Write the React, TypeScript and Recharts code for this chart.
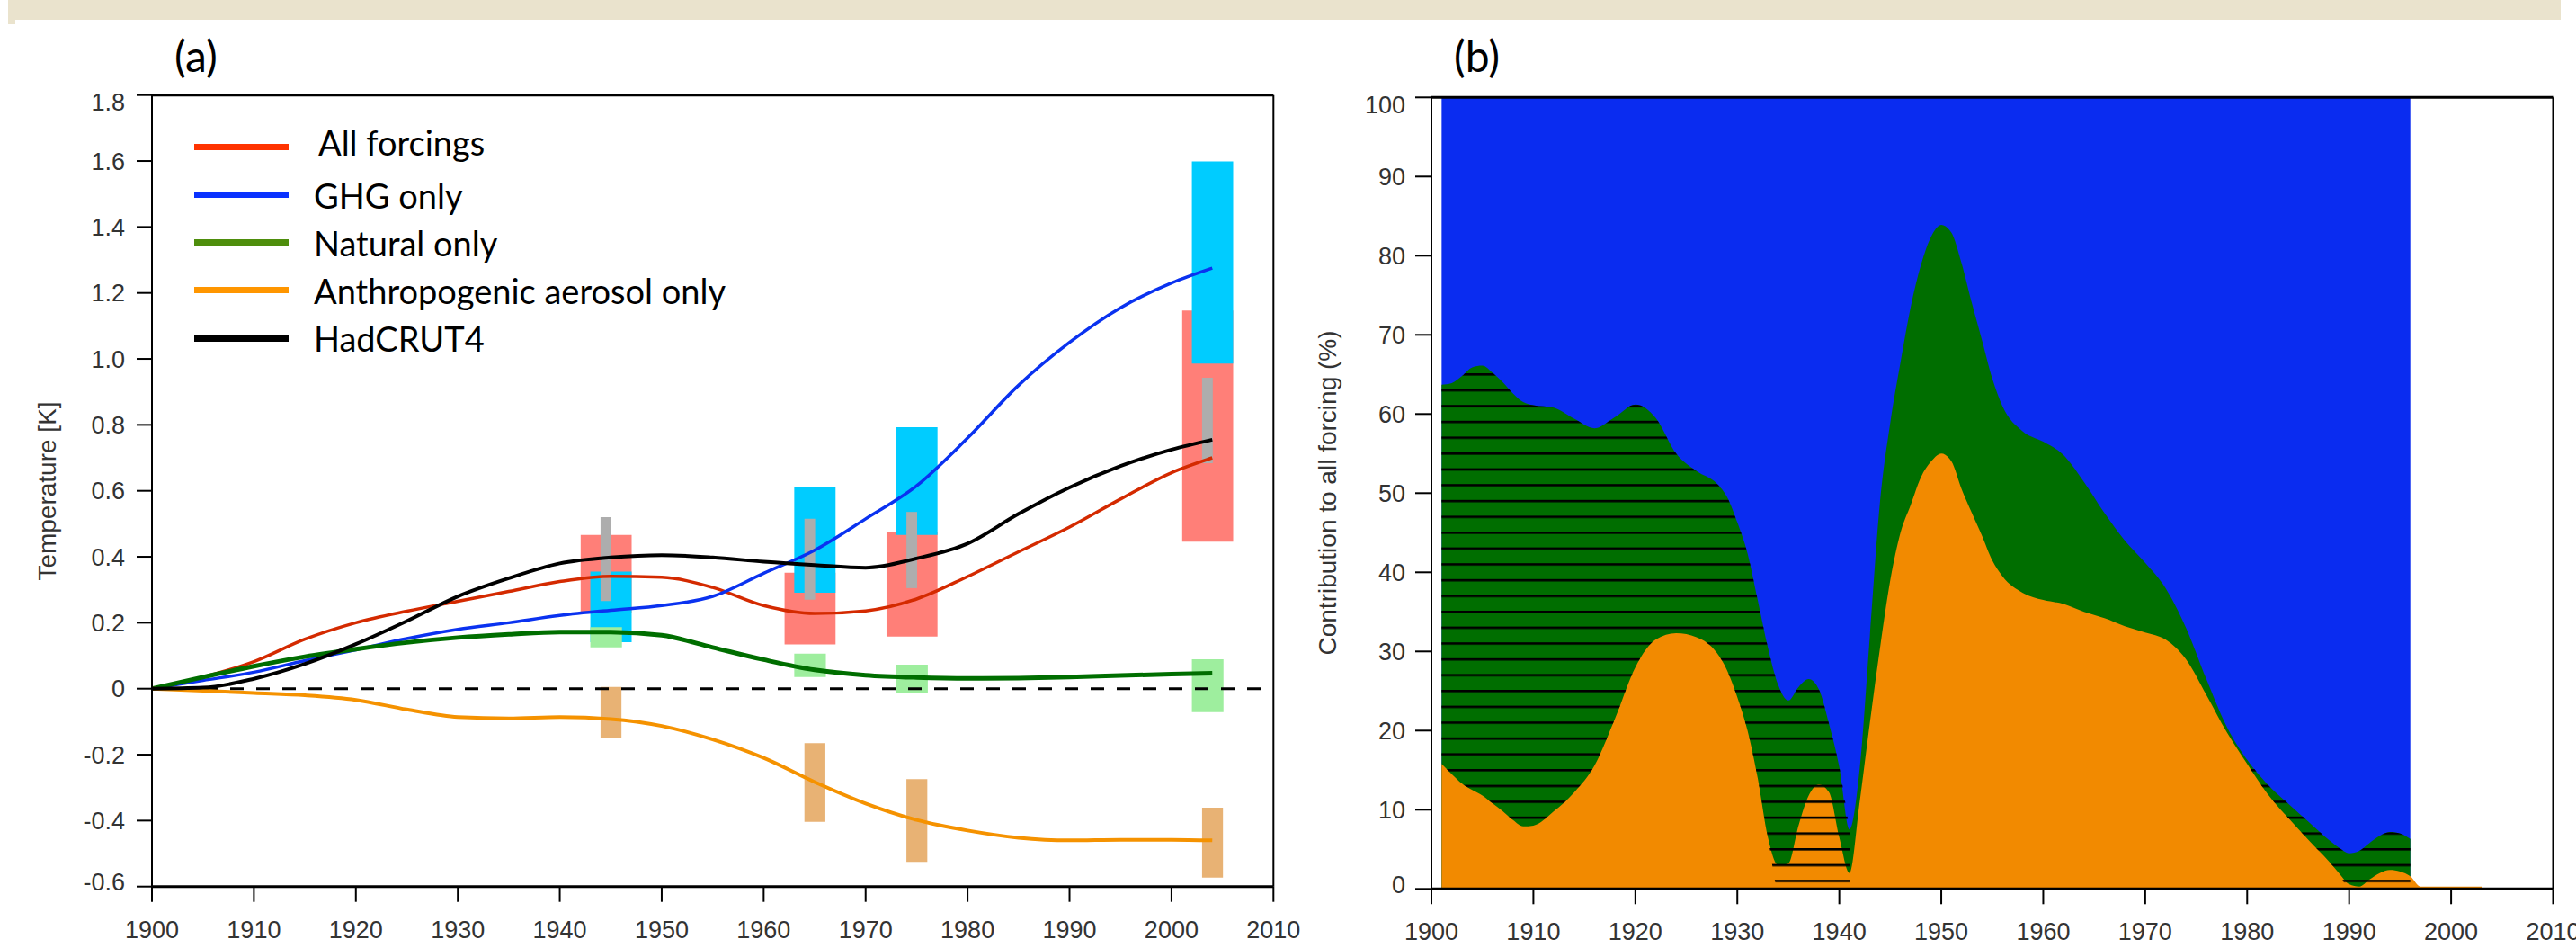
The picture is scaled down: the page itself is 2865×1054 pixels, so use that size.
import React from "react";
import {
  ComposedChart,
  Line,
  Area,
  XAxis,
  YAxis,
  ReferenceArea,
  ReferenceLine,
  Legend,
  Label,
} from "recharts";

// ---------- (a) temperature change, K ----------
const tempYears = [1900, 1905, 1910, 1915, 1920, 1925, 1930, 1935, 1940, 1945, 1950, 1955, 1960, 1965, 1970, 1975, 1980, 1985, 1990, 1995, 2000, 2004];
const allForcingsK = [0, 0.035, 0.082, 0.15, 0.2, 0.235, 0.265, 0.295, 0.325, 0.341, 0.338, 0.307, 0.252, 0.228, 0.236, 0.272, 0.34, 0.415, 0.49, 0.575, 0.655, 0.7];
const ghgOnlyK = [0, 0.025, 0.05, 0.085, 0.118, 0.152, 0.18, 0.2, 0.222, 0.238, 0.252, 0.28, 0.35, 0.42, 0.515, 0.615, 0.76, 0.92, 1.05, 1.155, 1.23, 1.275];
const naturalOnlyK = [0, 0.035, 0.068, 0.097, 0.12, 0.14, 0.155, 0.165, 0.172, 0.172, 0.162, 0.125, 0.088, 0.057, 0.041, 0.034, 0.031, 0.032, 0.035, 0.04, 0.044, 0.047];
const aerosolOnlyK = [0, -0.006, -0.013, -0.02, -0.034, -0.063, -0.086, -0.09, -0.086, -0.092, -0.113, -0.154, -0.21, -0.283, -0.348, -0.398, -0.43, -0.452, -0.46, -0.458, -0.458, -0.46];
const hadcrut4K = [0, 0.003, 0.03, 0.075, 0.135, 0.205, 0.28, 0.335, 0.38, 0.398, 0.405, 0.398, 0.385, 0.375, 0.367, 0.395, 0.44, 0.53, 0.61, 0.675, 0.725, 0.755];

// uncertainty boxes, one per period (first year of each period)
const periodStarts = [1942, 1962, 1972, 2001];
const allForcingsLow = [0.23, 0.134, 0.158, 0.446];
const allForcingsHigh = [0.466, 0.352, 0.474, 1.147];
const ghgLow = [0.141, 0.291, 0.466, 0.986];
const ghgHigh = [0.355, 0.613, 0.793, 1.599];
const hadcrutLow = [0.266, 0.27, 0.305, 0.684];
const hadcrutHigh = [0.52, 0.515, 0.536, 0.943];
const naturalLow = [0.125, 0.035, -0.012, -0.071];
const naturalHigh = [0.187, 0.106, 0.073, 0.089];
const aerosolLow = [-0.15, -0.404, -0.525, -0.573];
const aerosolHigh = [0.005, -0.165, -0.274, -0.361];

const legendLabels = ["All forcings", "GHG only", "Natural only", "Anthropogenic aerosol only", "HadCRUT4"];

// ---------- (b) contribution to all forcing, % ----------
const contribYears = [
  1901, 1902, 1903, 1904, 1905, 1906, 1907, 1908, 1909, 1910,
  1912, 1914, 1916, 1918, 1920, 1922, 1924, 1926, 1928, 1929,
  1930, 1931, 1932, 1933, 1934, 1935, 1936, 1937, 1938, 1939,
  1940, 1941, 1942, 1943, 1944, 1945, 1946, 1947, 1948, 1949,
  1950, 1951, 1952, 1953, 1954, 1955, 1956, 1958, 1960, 1962,
  1964, 1966, 1968, 1970, 1972, 1974, 1976, 1978, 1980, 1982,
  1984, 1986, 1988, 1989, 1990, 1991, 1992, 1993, 1994, 1995,
  1996, 1997, 2000, 2003,
];
const aerosolShare = [
  15.8, 14.5, 13.3, 12.5, 11.8, 10.8, 9.8, 8.7, 7.9, 8.0,
  9.8, 12.2, 15.6, 21.5, 28.0, 31.5, 32.3, 31.8, 29.8, 27.6,
  24.2, 20.0, 14.0, 6.5, 3.0, 3.2, 8.0, 11.8, 13.2, 12.2,
  6.5, 2.0, 11.0, 21.0, 30.5, 39.0, 45.0, 48.5, 52.0, 54.0,
  55.0, 54.0, 50.5, 47.5, 44.6, 41.5, 39.5, 37.4, 36.5, 36.0,
  35.0, 34.2, 33.2, 32.4, 31.5, 29.0, 24.5, 19.8, 15.8, 12.0,
  9.0, 6.2, 3.5, 2.0, 0.6, 0.3, 1.2, 2.0, 2.4, 2.2,
  1.6, 0.3, 0.3, 0.3,
];
// aerosol + natural (top of the green layer)
const aerosolNaturalShare = [
  63.7, 63.9, 64.8, 65.9, 66.1, 65.2, 64.0, 62.6, 61.5, 61.1,
  60.8, 59.4, 58.2, 59.6, 61.2, 59.5, 55.0, 52.8, 51.2, 49.5,
  46.3, 42.4, 36.5, 30.5, 25.8, 23.8, 25.5, 26.5, 25.2, 20.8,
  15.4, 7.5, 15.2, 32.0, 49.0, 58.9, 66.5, 73.5, 78.8, 82.4,
  83.9, 82.9, 79.0, 74.0, 69.3, 64.5, 61.0, 57.8, 56.5, 54.8,
  51.4, 47.5, 44.0, 41.2, 38.0, 33.0, 26.5, 20.5, 16.3, 13.2,
  10.8, 8.5, 6.2, 5.2, 4.5, 4.8, 5.8, 6.7, 7.2, 7.0,
  6.3, null, null, null,
];
// hatched (not significant) band: "above" = from aerosol top, "full" = from zero
const hatchMode = [
  "above", "above", "above", "above", "above", "above", "above", "above", "above", "above",
  "above", "above", "above", "above", "above", "above", "above", "above", "above", "above",
  "above", "above", "above", "above", "full", "full", "full", "full", "full", "full",
  "full", "full", null, null, null, null, null, null, null, null,
  null, null, null, null, null, null, null, null, null, null,
  null, null, null, null, null, null, null, null, "above", "above",
  "above", "above", "above", "above", "full", "full", "full", "full", "full", "full",
  "full", null, null, null,
];

const yearTicks = [1900, 1910, 1920, 1930, 1940, 1950, 1960, 1970, 1980, 1990, 2000, 2010];
const tempTicks = [-0.6, -0.4, -0.2, 0, 0.2, 0.4, 0.6, 0.8, 1.0, 1.2, 1.4, 1.6, 1.8];
const pctTicks = [0, 10, 20, 30, 40, 50, 60, 70, 80, 90, 100];

const tempData = tempYears.map((year, i) => ({
  year,
  all: allForcingsK[i],
  ghg: ghgOnlyK[i],
  nat: naturalOnlyK[i],
  aer: aerosolOnlyK[i],
  obs: hadcrut4K[i],
}));

const contribData = contribYears.map((year, i) => {
  const top = aerosolNaturalShare[i];
  const mode = hatchMode[i];
  return {
    year,
    ghg: top === null ? null : 100,
    nat: top,
    aer: aerosolShare[i],
    hatch: mode === null || top === null ? null : [mode === "full" ? 0 : aerosolShare[i], top],
  };
});

// ---------- styles ----------
const tickFont = { fill: "#333", fontSize: 27, fontFamily: "'Liberation Sans', Arial, sans-serif" };
const thick = { stroke: "#000", strokeWidth: 3 };
const thin = { stroke: "#000", strokeWidth: 2 };
const titleFont = "Lato, 'Open Sans', sans-serif";

const boxLayers = [
  { lo: allForcingsLow, hi: allForcingsHigh, from: 0.05, to: 5.05, fill: "#FF7F78" },
  { lo: ghgLow, hi: ghgHigh, from: 1.0, to: 5.05, fill: "#00CCFF" },
  { lo: hadcrutLow, hi: hadcrutHigh, from: 2.0, to: 3.05, fill: "#ADADAD" },
  { lo: naturalLow, hi: naturalHigh, from: 1.0, to: 4.1, fill: "#9EEE9E" },
  { lo: aerosolLow, hi: aerosolHigh, from: 2.0, to: 4.05, fill: "#E8B274" },
];
const legendColors = ["#FF3300", "#0A32FF", "#4E8E0C", "#FF9600", "#000000"];

// panel (b) plot box, in its own svg coordinates
const bPlotBottom = 988.3;
const bPlotHeight = 880;
const hatchStep = bPlotHeight * 0.02;
const hatchLine = 2.6;

const fmtTemp = (v: number) => (v === 0 ? "0" : v.toFixed(1));

// y tick label; the end labels are nudged inside the frame
const YTick = (props: any) => {
  const { x, y, payload, lo, hi, format } = props;
  const v = payload.value;
  const shift = v === hi ? 8 : v === lo ? -5 : 0;
  return (
    <text x={x} y={y + shift} dy="0.355em" textAnchor="end" {...tickFont}>
      {format ? format(v) : String(v)}
    </text>
  );
};

const SideTitle = ({ x, y, text }: { x: number; y: number; text: string }) => (
  <text
    x={x}
    y={y}
    transform={`rotate(-90, ${x}, ${y})`}
    textAnchor="middle"
    fill="#333"
    fontSize={28}
    fontFamily="'Liberation Sans', Arial, sans-serif"
  >
    {text}
  </text>
);

const TempLegend = () => (
  <div style={{ fontFamily: titleFont, fontSize: 38, color: "#000" }}>
    {legendLabels.map((label, i) => (
      <div key={label} style={{ display: "flex", alignItems: "center", height: 53 }}>
        <div style={{ width: 105, height: i === 4 ? 8 : 7, background: legendColors[i] }} />
        <span
          style={{
            marginLeft: i === 0 ? 33 : 28,
            lineHeight: 1,
            position: "relative",
            top: i === 0 ? -6 : 0,
            whiteSpace: "nowrap",
          }}
        >
          {label}
        </span>
      </div>
    ))}
  </div>
);

const PanelA = () => (
  <ComposedChart
    width={1480}
    height={1054}
    data={tempData}
    margin={{ top: 75.7, right: 43.7, bottom: 8.3, left: 69 }}
  >
    <XAxis
      dataKey="year"
      type="number"
      domain={[1900, 2010]}
      ticks={yearTicks}
      interval={0}
      height={60}
      tickSize={17}
      tickMargin={21}
      tick={tickFont}
      axisLine={thick}
      tickLine={thin}
      allowDataOverflow
    />
    <XAxis
      xAxisId="top"
      orientation="top"
      type="number"
      domain={[1900, 2010]}
      ticks={yearTicks}
      interval={0}
      height={30}
      tickSize={6}
      tick={false}
      axisLine={thick}
      tickLine={thin}
      allowDataOverflow
    />
    <YAxis
      type="number"
      domain={[-0.6, 1.8]}
      ticks={tempTicks}
      interval={0}
      width={100}
      tickSize={17}
      tickMargin={13}
      tick={<YTick lo={-0.6} hi={1.8} format={fmtTemp} />}
      axisLine={thin}
      tickLine={thin}
      allowDataOverflow
    >
      <Label content={() => <SideTitle x={62} y={546} text="Temperature [K]" />} />
    </YAxis>
    <YAxis
      yAxisId="right"
      orientation="right"
      type="number"
      domain={[-0.6, 1.8]}
      ticks={tempTicks}
      interval={0}
      width={20}
      tickSize={20}
      tick={false}
      axisLine={thin}
      tickLine={thin}
      allowDataOverflow
    />

    {boxLayers.flatMap((layer, li) =>
      periodStarts.map((start, pi) => (
        <ReferenceArea
          key={`box-${li}-${pi}`}
          x1={start + layer.from}
          x2={start + layer.to}
          y1={layer.lo[pi]}
          y2={layer.hi[pi]}
          fill={layer.fill}
          fillOpacity={1}
          stroke="none"
          ifOverflow="visible"
        />
      ))
    )}

    <ReferenceLine y={0} stroke="#000" strokeWidth={3} strokeDasharray="15 14" />

    <Line dataKey="all" type="monotone" stroke="#D42A00" strokeWidth={3.5} dot={false} activeDot={false} isAnimationActive={false} />
    <Line dataKey="ghg" type="monotone" stroke="#0A32F0" strokeWidth={3.5} dot={false} activeDot={false} isAnimationActive={false} />
    <Line dataKey="nat" type="monotone" stroke="#006E00" strokeWidth={5} dot={false} activeDot={false} isAnimationActive={false} />
    <Line dataKey="aer" type="monotone" stroke="#F59200" strokeWidth={4} dot={false} activeDot={false} isAnimationActive={false} />
    <Line dataKey="obs" type="monotone" stroke="#000000" strokeWidth={4} dot={false} activeDot={false} isAnimationActive={false} />

    <Legend
      layout="vertical"
      align="center"
      verticalAlign="middle"
      wrapperStyle={{ left: 216, top: 137, width: 700, height: 265 }}
      content={() => <TempLegend />}
    />
  </ComposedChart>
);

const PanelB = () => (
  <ComposedChart
    width={1425}
    height={1054}
    data={contribData}
    margin={{ top: 78.3, right: 5.5, bottom: 5.7, left: 52 }}
  >
    <defs>
      <pattern
        id="natHatch"
        patternUnits="userSpaceOnUse"
        x={0}
        y={bPlotBottom - bPlotHeight * 0.01 - hatchLine / 2}
        width={40}
        height={hatchStep}
      >
        <rect x={0} y={0} width={40} height={hatchLine} fill="#000" />
      </pattern>
    </defs>
    <XAxis
      dataKey="year"
      type="number"
      domain={[1900, 2010]}
      ticks={yearTicks}
      interval={0}
      height={60}
      tickSize={17}
      tickMargin={21}
      tick={tickFont}
      axisLine={thick}
      tickLine={thin}
      allowDataOverflow
    />
    <XAxis
      xAxisId="top"
      orientation="top"
      type="number"
      domain={[1900, 2010]}
      ticks={yearTicks}
      interval={0}
      height={30}
      tickSize={8}
      tick={false}
      axisLine={thick}
      tickLine={thin}
      allowDataOverflow
    />
    <YAxis
      type="number"
      domain={[0, 100]}
      ticks={pctTicks}
      interval={0}
      width={100}
      tickSize={18}
      tickMargin={11}
      tick={<YTick lo={0} hi={100} />}
      axisLine={thin}
      tickLine={thin}
      allowDataOverflow
    >
      <Label content={() => <SideTitle x={46} y={548} text="Contribution to all forcing (%)" />} />
    </YAxis>
    <YAxis
      yAxisId="right"
      orientation="right"
      type="number"
      domain={[0, 100]}
      ticks={pctTicks}
      interval={0}
      width={20}
      tickSize={19}
      tick={false}
      axisLine={thin}
      tickLine={thin}
      allowDataOverflow
    />

    <Area dataKey="ghg" type="monotone" fill="#0A2CF0" fillOpacity={1} stroke="none" connectNulls={false} dot={false} activeDot={false} isAnimationActive={false} />
    <Area dataKey="nat" type="monotone" fill="#006E00" fillOpacity={1} stroke="none" connectNulls={false} dot={false} activeDot={false} isAnimationActive={false} />
    <Area dataKey="aer" type="monotone" fill="#F28A00" fillOpacity={1} stroke="none" connectNulls={false} dot={false} activeDot={false} isAnimationActive={false} />
    <Area dataKey="hatch" type="monotone" fill="url(#natHatch)" fillOpacity={1} stroke="none" connectNulls={false} dot={false} activeDot={false} isAnimationActive={false} />
  </ComposedChart>
);

export default function App() {
  return (
    <div
      style={{
        position: "absolute",
        left: 0,
        top: 0,
        width: 2865,
        height: 1054,
        background: "#fff",
        overflow: "hidden",
      }}
    >
      <div style={{ position: "absolute", left: 9, top: 0, width: 2839, height: 22, background: "#EAE3CD" }} />
      <div style={{ position: "absolute", left: 9, top: 22, width: 8, height: 5, background: "#EAE3CD" }} />

      <div style={{ position: "absolute", left: 0, top: 0 }}>
        <PanelA />
      </div>
      <div style={{ position: "absolute", left: 1440, top: 0 }}>
        <PanelB />
      </div>

      <div style={{ position: "absolute", left: 194, top: 38, fontFamily: titleFont, fontSize: 48, lineHeight: "48px" }}>
        (a)
      </div>
      <div style={{ position: "absolute", left: 1617, top: 38, fontFamily: titleFont, fontSize: 48, lineHeight: "48px" }}>
        (b)
      </div>
    </div>
  );
}
